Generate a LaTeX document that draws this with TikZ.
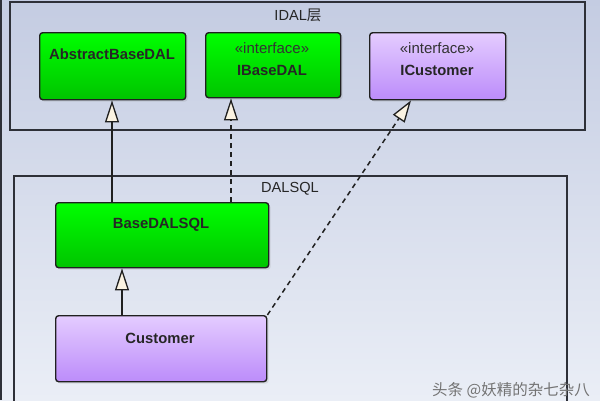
\documentclass[tikz,border=0pt]{standalone}
\usepackage{fontspec}
\setmainfont{Liberation Sans}
\newfontfamily\cjk{Noto Sans CJK SC}
\usetikzlibrary{arrows.meta,shadows,calc}
\definecolor{bgtop}{HTML}{C4CCE2}
\definecolor{bgbot}{HTML}{EAEEF6}
\definecolor{pkg}{HTML}{2E3038}
\definecolor{gtop}{HTML}{00FF00}
\definecolor{gbot}{HTML}{00C400}
\definecolor{ptop}{HTML}{E4CCFF}
\definecolor{pbot}{HTML}{BC8CFA}
\definecolor{cream}{HTML}{FBF3E2}
\definecolor{edge}{HTML}{202020}
\tikzset{
  x=1pt, y=-1pt,
  pkgbox/.style={draw=pkg, line width=1.8pt},
  classbox/.style={draw=edge, line width=1.4pt, rounded corners=3pt, anchor=north west,
    inner sep=0pt, drop shadow={shadow xshift=2pt, shadow yshift=-2pt, opacity=0.18}},
  greenbox/.style={classbox, top color=gtop, bottom color=gbot},
  purplebox/.style={classbox, top color=ptop, bottom color=pbot},
  clsname/.style={font=\fontsize{14.8}{16}\selectfont\bfseries, text=black!85, inner sep=0pt},
  stereo/.style={font=\fontsize{15}{16}\selectfont, text=black!80, inner sep=0pt},
  pkgname/.style={font=\fontsize{14.6}{16}\selectfont, text=black!85, inner sep=0pt},
  inh/.style={line width=1.5pt, draw=edge, -{Triangle[open, width=14pt, length=22pt, fill=cream, line width=1.3pt]}},
  realize/.style={inh, dash pattern=on 5pt off 4pt},
}
\begin{document}
\begin{tikzpicture}
\useasboundingbox (0,0) rectangle (600,400);
% background
\shade[top color=bgtop, bottom color=bgbot] (0,0) rectangle (600,400);
\fill[pkg] (0,0) rectangle (1.8,400);
% packages
\draw[pkgbox] (10,2) rectangle (585,130);
\node[pkgname] (idal) at (298,15) {IDAL{\cjk 层}};
\draw[pkgbox] (14,176) rectangle (567,412);
\node[pkgname] (dalsql) at (290,189) {DALSQL};
% classes
\node[greenbox, minimum width=146pt, minimum height=67pt] (abs) at (39,32) {};
\node[clsname] (absT) at (112,54) {AbstractBaseDAL};
\node[greenbox, minimum width=135pt, minimum height=65pt] (ibase) at (205,32) {};
\node[stereo] (ibaseS) at (272,48) {«interface»};
\node[clsname] (ibaseT) at (272,70) {IBaseDAL};
\node[purplebox, minimum width=136pt, minimum height=67pt] (icust) at (369,32) {};
\node[stereo] (icustS) at (437,48) {«interface»};
\node[clsname] (icustT) at (437,70) {ICustomer};
\node[greenbox, minimum width=213pt, minimum height=65pt] (base) at (55,202) {};
\node[clsname] (baseT) at (161,225) {BaseDALSQL};
\node[purplebox, minimum width=211pt, minimum height=66pt] (cust) at (55,315) {};
\node[clsname] (custT) at (160,338) {Customer};
% connectors
\coordinate (absIn) at ($(abs.south west)+(73,0)$);
\coordinate (ibaseIn) at ($(ibase.south west)+(26,0)$);
\coordinate (icustIn) at ($(icust.south west)+(42,0)$);
\coordinate (baseIn) at ($(base.south west)+(67,0)$);
\draw[inh] (base.north -| absIn) -- (absIn);
\draw[realize] (base.north -| ibaseIn) -- (ibaseIn);
\draw[realize] (cust.north east) -- (icustIn);
\draw[inh] (cust.north -| baseIn) -- (baseIn);
% watermark
\node[font=\cjk\fontsize{15.5}{17}\selectfont, text=black!55, inner sep=0pt] (wm) at (511,390) {头条 @妖精的杂七杂八};
\end{tikzpicture}
\end{document}
